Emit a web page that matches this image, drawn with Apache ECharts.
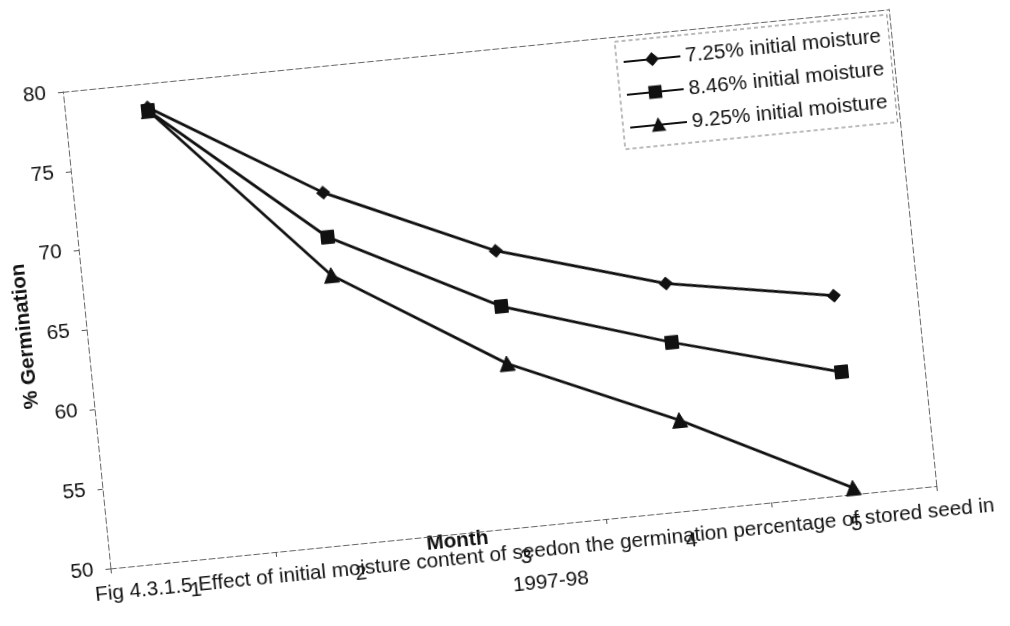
<!DOCTYPE html>
<html>
<head>
<meta charset="utf-8">
<script src="https://cdn.jsdelivr.net/npm/echarts@6/dist/echarts.min.js"></script>
<style>
  html, body { margin: 0; padding: 0; background: #fff; overflow: hidden; width: 1010px; height: 626px; }
  /* the whole figure sits slightly tilted on the page */
  #chart { position: absolute; left: 0; top: 0; width: 1010px; height: 626px;
           transform: rotate(-5.7deg); transform-origin: 505px 313px; }
</style>
</head>
<body>
<div id="chart"></div>
<script>
// Storage months
const months = ['1', '2', '3', '4', '5'];

// % germination for each initial moisture level
const seriesNames = ['7.25% initial moisture', '8.46% initial moisture', '9.25% initial moisture'];
const germ725 = [78.5, 72.1, 67.4, 64.3, 62.5];
const germ846 = [78.3, 69.3, 63.9, 60.6, 57.7];
const germ925 = [78.3, 66.9, 60.3, 55.7, 50.4];

// value axis range and step
const yRange = [50, 80];
const yStep = 5;

const FONT = '"Liberation Sans", Arial, Helvetica, sans-serif';
const INK = '#111';
const FS = 20.7;

const frameLine = { show: true, lineStyle: { color: '#666', width: 1, type: [6, 3] } };

const lineSeries = (name, data, symbol, size) => ({
  name: name,
  type: 'line',
  data: data,
  xAxisIndex: 0,
  yAxisIndex: 0,
  symbol: symbol,
  symbolSize: size,
  lineStyle: { color: INK, width: 2.8 },
  itemStyle: { color: INK, borderColor: INK, borderWidth: 1 },
  emphasis: { disabled: true }
});

const chart = echarts.init(document.getElementById('chart'), null, { renderer: 'canvas' });
chart.setOption({
  animation: false,
  backgroundColor: '#fff',
  textStyle: { fontFamily: FONT, color: INK },
  grid: { left: 87, top: 49, width: 830, height: 479, containLabel: false, outerBoundsMode: 'none' },
  legend: {
    orient: 'vertical',
    left: 641,
    top: 54,
    padding: [10, 8, 10, 6],
    itemWidth: 57,
    itemHeight: 14,
    itemGap: 11,
    borderColor: '#777',
    borderWidth: 1,
    borderType: [4, 3],
    backgroundColor: '#fff',
    textStyle: { fontFamily: FONT, fontSize: FS, color: INK, lineHeight: 22 },
    data: seriesNames
  },
  xAxis: [
    {
      type: 'category',
      data: months,
      position: 'bottom',
      boundaryGap: true,
      axisLine: frameLine,
      axisTick: { show: true, length: 5, lineStyle: { color: '#555' } },
      axisLabel: { fontFamily: FONT, fontSize: FS, color: INK, margin: 20 },
      splitLine: { show: false }
    },
    {
      type: 'category',
      data: months,
      position: 'top',
      axisLine: frameLine,
      axisTick: { show: false },
      axisLabel: { show: false },
      splitLine: { show: false }
    }
  ],
  yAxis: [
    {
      type: 'value',
      min: yRange[0],
      max: yRange[1],
      interval: yStep,
      position: 'left',
      name: '% Germination',
      nameLocation: 'middle',
      nameRotate: 90,
      nameGap: 40,
      nameTextStyle: { fontFamily: FONT, fontSize: FS, fontWeight: 'bold', color: INK },
      axisLine: frameLine,
      axisTick: { show: true, length: 5, lineStyle: { color: '#555' } },
      axisLabel: { fontFamily: FONT, fontSize: FS, color: INK, margin: 17 },
      splitLine: { show: false }
    },
    {
      type: 'value',
      min: yRange[0],
      max: yRange[1],
      interval: yStep,
      position: 'right',
      axisLine: frameLine,
      axisTick: { show: false },
      axisLabel: { show: false },
      splitLine: { show: false }
    }
  ],
  graphic: [
    {
      type: 'text', x: 435, y: 535, silent: true,
      style: { text: 'Month', font: 'bold ' + FS + 'px ' + FONT, fill: INK,
               align: 'center', verticalAlign: 'middle', textAlign: 'center', textVerticalAlign: 'middle' }
    },
    {
      type: 'text', x: 521, y: 553, silent: true,
      style: { text: 'Fig 4.3.1.5 Effect of initial moisture content of seedon the germination percentage of stored seed in',
               font: FS + 'px ' + FONT, fill: INK,
               align: 'center', verticalAlign: 'middle', textAlign: 'center', textVerticalAlign: 'middle' }
    },
    {
      type: 'text', x: 524, y: 585, silent: true,
      style: { text: '1997-98', font: FS + 'px ' + FONT, fill: INK,
               align: 'center', verticalAlign: 'middle', textAlign: 'center', textVerticalAlign: 'middle' }
    }
  ],
  series: [
    lineSeries(seriesNames[0], germ725, 'diamond', 13),
    lineSeries(seriesNames[1], germ846, 'rect', 13),
    lineSeries(seriesNames[2], germ925, 'triangle', 15)
  ]
});
</script>
</body>
</html>
